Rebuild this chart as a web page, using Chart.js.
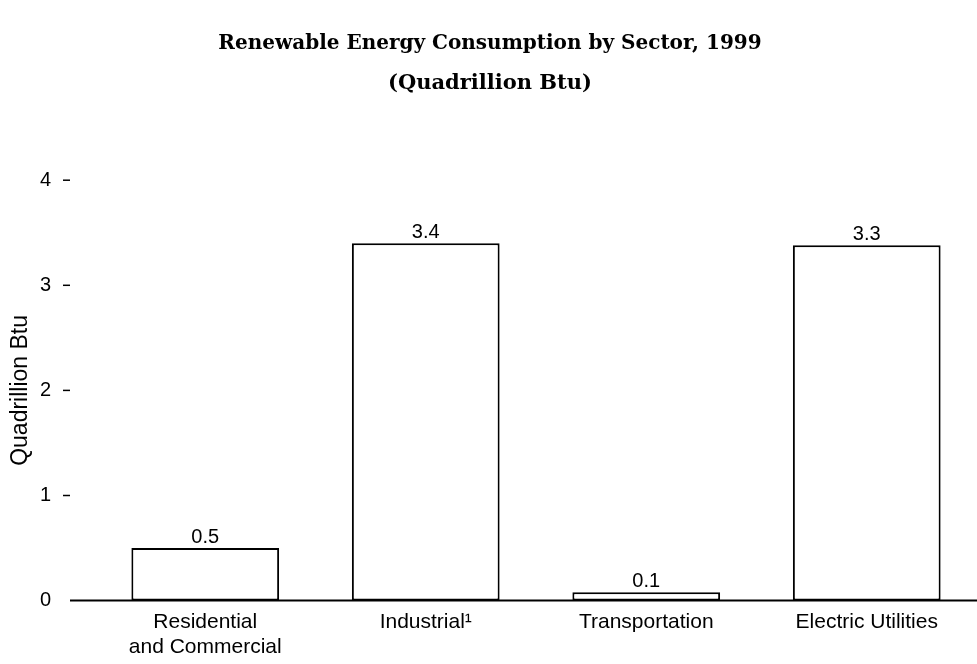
<!DOCTYPE html>
<html>
<head>
<meta charset="utf-8">
<title>Renewable Energy Consumption by Sector, 1999</title>
<script src="https://cdn.jsdelivr.net/npm/chart.js@4"></script>
<style>
    body { margin: 0; background: #ffffff; }
    #wrap { width: 977px; height: 664px; }
</style>
</head>
<body>
<div id="wrap"><canvas id="sectorChart" width="977" height="664"></canvas></div>
<script>
// Sectors shown along the bottom (multi-line where the original wraps)
let sectors = [["Residential", "and Commercial"], "Industrial¹", "Transportation", "Electric Utilities"];

// Bar heights (Quadrillion Btu)
let consumption = [0.5, 3.4, 0.08, 3.38];

// Numbers printed above each bar
let valueLabels = ["0.5", "3.4", "0.1", "3.3"];

// Y axis tick values
let yTicks = [0, 1, 2, 3, 4];

let sansFont = "'Liberation Sans', Arial, sans-serif";
let serifFont = "'DejaVu Serif', 'Liberation Serif', serif";

// Draws the baseline, the small dashes next to the y labels and the value labels
let axisMarks = {
    id: 'axisMarks',
    afterDatasetsDraw(chart) {
        let ctx = chart.ctx;
        let yScale = chart.scales.y;
        let area = chart.chartArea;
        let zeroY = yScale.getPixelForValue(0);

        ctx.save();
        ctx.strokeStyle = '#000';
        ctx.lineWidth = 2;
        ctx.beginPath();
        ctx.moveTo(area.left - 25, zeroY);
        ctx.lineTo(chart.width, zeroY);
        ctx.stroke();

        // Short dashes to the right of the tick numbers
        ctx.lineWidth = 1.5;
        for (let i = 1; i < yTicks.length; i++) {
            let y = yScale.getPixelForValue(yTicks[i]);
            ctx.beginPath();
            ctx.moveTo(area.left - 32, y);
            ctx.lineTo(area.left - 25, y);
            ctx.stroke();
        }

        // Value labels above the bars
        let meta = chart.getDatasetMeta(0);
        ctx.fillStyle = '#000';
        ctx.font = '20px ' + sansFont;
        ctx.textAlign = 'center';
        ctx.textBaseline = 'bottom';
        for (let i = 0; i < meta.data.length; i++) {
            let bar = meta.data[i];
            ctx.fillText(valueLabels[i], bar.x, bar.y - 1);
        }
        ctx.restore();
    }
};

let ctx = document.getElementById('sectorChart').getContext('2d');

let myChart = new Chart(ctx, {
    type: 'bar',
    data: {
        labels: sectors,
        datasets: [{
            data: consumption,
            backgroundColor: '#ffffff',
            borderColor: '#000000',
            borderWidth: 2,
            borderSkipped: false,
            categoryPercentage: 1,
            barPercentage: 0.67
        }]
    },
    options: {
        responsive: false,
        animation: false,
        layout: { padding: { left: 0, right: -3, top: 0, bottom: -5 } },
        plugins: {
            legend: { display: false },
            tooltip: { enabled: false },
            title: {
                display: true,
                text: 'Renewable Energy Consumption by Sector, 1999',
                color: '#000',
                font: { family: serifFont, size: 20, weight: 'bold' },
                padding: { top: 32, bottom: 0 }
            },
            subtitle: {
                display: true,
                text: '(Quadrillion Btu)',
                color: '#000',
                font: { family: serifFont, size: 21, weight: 'bold' },
                padding: { top: 15, bottom: 84 }
            }
        },
        scales: {
            x: {
                grid: { display: false, drawTicks: false },
                border: { display: false },
                ticks: {
                    color: '#000',
                    font: { family: sansFont, size: 21 },
                    padding: 9,
                    maxRotation: 0,
                    autoSkip: false
                }
            },
            y: {
                min: 0,
                max: 4,
                grid: { display: false, drawTicks: false },
                border: { display: false },
                afterFit(scale) { scale.width = 95; },
                afterBuildTicks(scale) {
                    scale.ticks = yTicks.map(v => ({ value: v }));
                },
                ticks: {
                    color: '#000',
                    font: { family: sansFont, size: 20 },
                    padding: 44
                },
                title: {
                    display: true,
                    text: 'Quadrillion Btu',
                    color: '#000',
                    font: { family: sansFont, size: 23 },
                    padding: { top: 7, bottom: 0 }
                }
            }
        }
    },
    plugins: [axisMarks]
});
</script>
</body>
</html>
